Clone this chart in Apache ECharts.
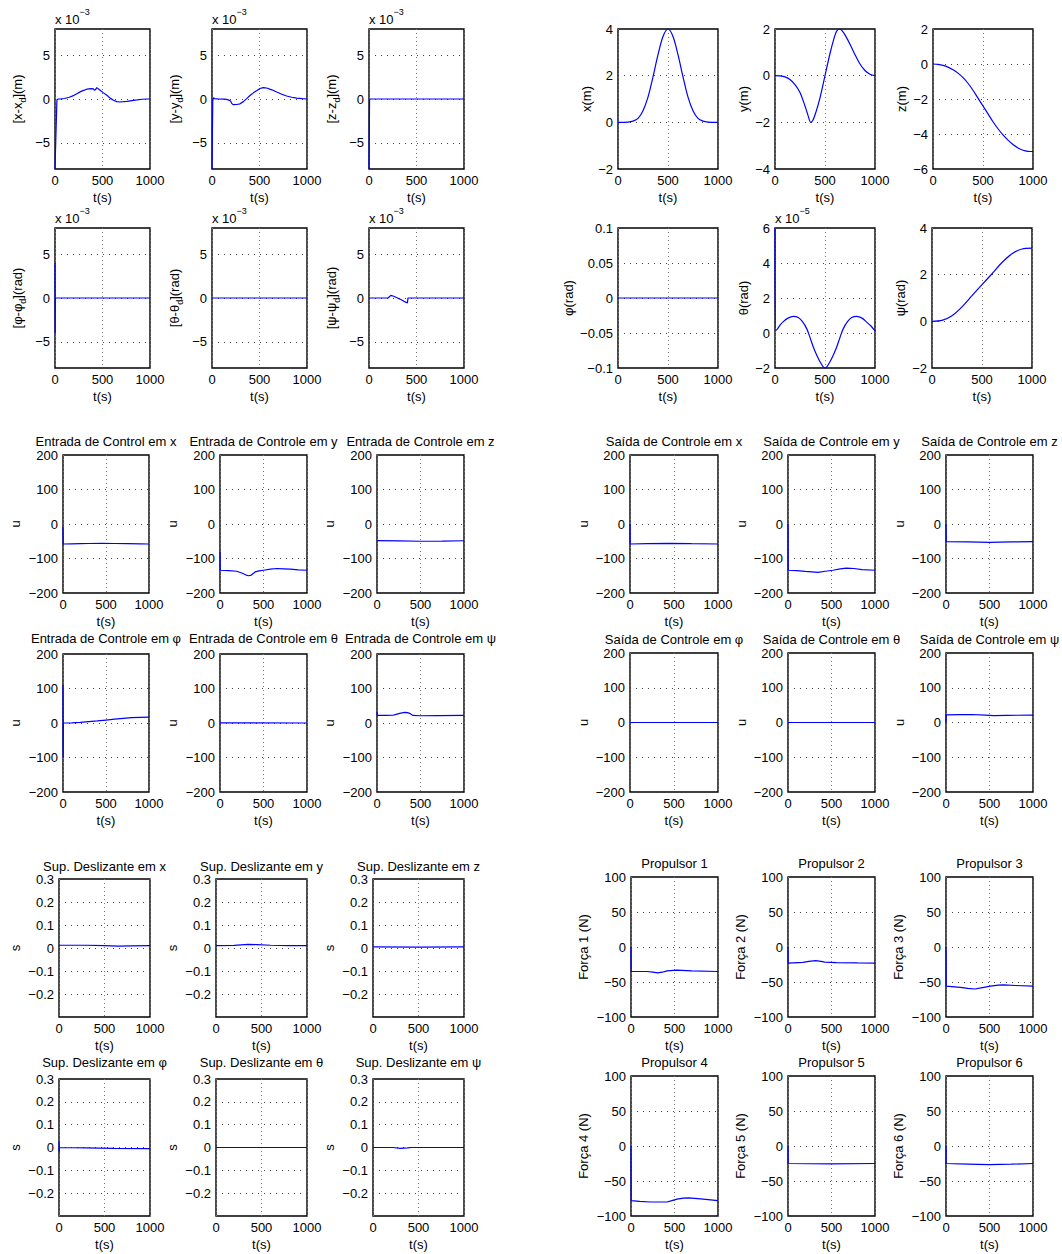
<!DOCTYPE html>
<html>
<head>
<meta charset="utf-8">
<script src="https://cdn.jsdelivr.net/npm/echarts@6/dist/echarts.min.js"></script>
<style>
  html, body { margin: 0; padding: 0; background: #fff; }
  #chart { width: 1062px; height: 1254px; }
</style>
</head>
<body>
<div id="chart"></div>
<script>
// ---------------- data: [t (s), value] ----------------
// tracking errors (units of 1e-3)
const errX = [[0,-8],[20,-0.1],[35,0],[60,0.02],[100,0.06],[150,0.2],[200,0.42],[230,0.6],[280,0.9],[335,1.12],[380,1.18],[405,1.16],[415,1.0],[425,1.05],[440,1.3],[475,1.0],[510,0.7],[546,0.42],[580,0.1],[616,-0.15],[650,-0.3],[680,-0.34],[720,-0.31],[757,-0.27],[810,-0.18],[863,-0.11],[920,-0.03],[968,0],[1000,0]];
const errY = [[0,-8],[8,-0.2],[15,0.15],[25,0.05],[60,0.02],[120,-0.02],[154,-0.05],[190,-0.18],[200,-0.3],[207,-0.5],[225,-0.65],[260,-0.63],[295,-0.55],[330,-0.3],[365,0.04],[400,0.4],[418,0.57],[428,0.6],[435,0.72],[470,0.95],[505,1.2],[540,1.3],[575,1.26],[630,1.05],[681,0.8],[735,0.55],[786,0.34],[840,0.2],[891,0.11],[950,0.04],[1000,0]];
const errZ = [[0,-8],[6,-0.1],[12,0],[1000,0]];
const errPhi = [[0,4],[2,-4],[4,0],[1000,0]];
const errTheta = [[0,0],[1000,0]];
const errPsi = [[0,0],[200,0],[215,0.15],[230,0.3],[260,0.2],[300,0],[340,-0.2],[380,-0.45],[405,-0.55],[410,0],[1000,0]];

// positions and attitude
const posX = [[0,0],[100,0.01],[150,0.05],[200,0.17],[250,0.5],[300,1.08],[350,1.95],[400,2.9],[450,3.68],[500,4.0],[550,3.68],[600,2.9],[650,1.95],[700,1.08],[750,0.5],[800,0.17],[850,0.05],[900,0.01],[1000,0]];
const posY = [[0,0],[50,-0.01],[100,-0.05],[150,-0.16],[200,-0.38],[250,-0.72],[300,-1.3],[330,-1.7],[357,-2.0],[380,-1.9],[410,-1.55],[450,-0.95],[500,0],[550,0.95],[590,1.6],[615,1.9],[643,2.0],[670,1.93],[700,1.75],[750,1.35],[800,0.9],[850,0.5],[900,0.22],[950,0.06],[1000,0]];
const posZ = [[0,0],[50,-0.02],[100,-0.08],[150,-0.18],[200,-0.33],[250,-0.52],[300,-0.78],[350,-1.1],[400,-1.5],[450,-1.95],[500,-2.4],[550,-2.85],[600,-3.3],[650,-3.7],[700,-4.05],[750,-4.35],[800,-4.6],[850,-4.8],[900,-4.93],[950,-4.99],[1000,-5.0]];
const attPhi = [[0,0],[1000,0]];
// units of 1e-5
const attTheta = [[0,6],[8,0.15],[27,0.25],[50,0.45],[83,0.65],[130,0.85],[183,0.95],[233,0.88],[275,0.65],[317,0.25],[350,-0.25],[383,-0.8],[420,-1.3],[450,-1.64],[480,-1.92],[500,-2.0],[520,-1.92],[550,-1.64],[580,-1.3],[617,-0.8],[650,-0.25],[683,0.25],[725,0.65],[767,0.88],[817,0.95],[870,0.85],[917,0.62],[960,0.4],[1000,0.12]];
const attPsi = [[0,0],[100,0.04],[200,0.24],[300,0.62],[400,1.1],[500,1.57],[600,2.04],[700,2.52],[800,2.9],[900,3.1],[1000,3.14]];

// control inputs
const uInX = [[0,-8],[2,-58],[100,-57.5],[200,-57],[300,-56.5],[450,-56],[600,-56.5],[750,-57],[900,-57.5],[1000,-58]];
const uInY = [[0,-80],[2,-134],[100,-135],[192,-137],[250,-142],[300,-148],[327,-150],[360,-148],[404,-139],[450,-136],[500,-134],[580,-131],[654,-129],[730,-130],[808,-131],[900,-133],[1000,-134]];
const uInZ = [[0,-48],[250,-49],[500,-50],[750,-49.5],[1000,-48.5]];
const uInPhi = [[0,110],[2,-100],[5,0],[100,0.5],[200,2],[300,4],[400,6],[500,8.5],[600,11],[700,13.5],[800,15.5],[900,16.5],[1000,17]];
const uInTheta = [[0,0.5],[1000,0]];
const uInPsi = [[0,32],[3,22],[100,22],[184,22.5],[220,25],[260,28],[318,31],[350,30],[375,28],[400,24],[414,22],[490,21],[700,21.5],[1000,22]];

// control outputs
const uOutX = [[0,0],[2,-58],[200,-57],[450,-56],[700,-57],[1000,-58]];
const uOutY = [[0,0],[2,-134],[100,-135],[200,-137.5],[345,-140],[430,-137],[517,-134],[600,-130],[670,-128],[760,-129],[850,-132],[1000,-134]];
const uOutZ = [[0,0],[2,-51],[250,-52],[500,-53],[750,-52],[1000,-51]];
const uOutPhi = [[0,0],[1000,0]];
const uOutTheta = [[0,0],[1000,0]];
const uOutPsi = [[0,0],[2,22],[150,22.5],[300,23],[450,21.5],[550,20],[700,20.5],[1000,21.5]];

// sliding surfaces
const sX = [[0,0.012],[300,0.012],[500,0.01],[650,0.008],[800,0.009],[1000,0.01]];
const sY = [[0,0.01],[200,0.011],[350,0.016],[450,0.015],[600,0.012],[800,0.01],[1000,0.01]];
const sZ = [[0,0.005],[500,0.004],[1000,0.005]];
const sPhi = [[0,0.025],[2,-0.02],[5,0],[300,-0.002],[600,-0.004],[1000,-0.005]];
const sTheta = [[0,0],[1000,0]];
const sPsi = [[0,0],[220,0],[300,-0.004],[380,-0.002],[420,0],[1000,0]];

// thruster forces (N)
const f1 = [[0,0],[2,-35],[184,-35],[250,-36],[306,-37],[360,-36],[414,-34],[529,-33],[700,-34],[1000,-35]];
const f2 = [[0,0],[2,-23],[172,-22],[240,-20.5],[318,-19.5],[380,-20.5],[421,-21.5],[556,-22.4],[800,-22.8],[1000,-23]];
const f3 = [[0,0],[2,-56],[165,-57.6],[250,-59],[330,-60],[420,-58],[510,-56],[600,-54.5],[663,-54],[800,-55],[1000,-56]];
const f4 = [[0,0],[2,-78],[100,-79],[222,-80],[330,-80],[414,-80],[470,-78],[529,-76],[600,-74.5],[663,-74],[800,-75.5],[1000,-78]];
const f5 = [[0,0],[2,-25],[500,-25.5],[1000,-25]];
const f6 = [[0,0],[2,-25],[250,-25.8],[500,-26.5],[750,-26],[1000,-25]];

// axis ranges
const tRange = { min: 0, max: 1000, interval: 500 };
const yErr = { min: -8, max: 8, splitNumber: 3, only: 5 };
const yPosX = { min: -2, max: 4, interval: 2 };
const yPosY = { min: -4, max: 2, interval: 2 };
const yPosZ = { min: -6, max: 2, interval: 2 };
const yPhi = { min: -0.1, max: 0.1, interval: 0.05 };
const yTheta = { min: -2, max: 6, interval: 2 };
const yPsi = { min: -2, max: 4, interval: 2 };
const yCtrl = { min: -200, max: 200, interval: 100 };
const ySurf = { min: -0.3, max: 0.3, interval: 0.1, hide: -0.3 };
const yForce = { min: -100, max: 100, interval: 50 };

// ---------------- layout ----------------
const FONT = '"Liberation Sans", Arial, Helvetica, sans-serif';
const FS = 13;

// [left, top, right, bottom] of each plot box
const panels = [
  // errors
  { data: errX, box: [55, 29, 150, 169], y: yErr, name: '[x-x{sub|d}](m)', gap: 28, mult: '−3' },
  { data: errY, box: [212, 29, 307, 169], y: yErr, name: '[y-y{sub|d}](m)', gap: 28, mult: '−3' },
  { data: errZ, box: [369, 29, 464, 169], y: yErr, name: '[z-z{sub|d}](m)', gap: 28, mult: '−3' },
  { data: errPhi, box: [55, 228, 150, 368], y: yErr, name: '[φ-φ{sub|d}](rad)', gap: 28, mult: '−3' },
  { data: errTheta, box: [212, 228, 307, 368], y: yErr, name: '[θ-θ{sub|d}](rad)', gap: 28, mult: '−3' },
  { data: errPsi, box: [369, 228, 464, 368], y: yErr, name: '[ψ-ψ{sub|d}](rad)', gap: 28, mult: '−3' },
  // positions / attitude
  { data: posX, box: [618, 29, 718, 169], y: yPosX, name: 'x(m)', gap: 23, smooth: true },
  { data: posY, box: [775, 29, 875, 169], y: yPosY, name: 'y(m)', gap: 22, smooth: true },
  { data: posZ, box: [933, 29, 1033, 169], y: yPosZ, name: 'z(m)', gap: 22, smooth: true },
  { data: attPhi, box: [618, 228, 718, 368], y: yPhi, name: 'φ(rad)', gap: 20 },
  { data: attTheta, box: [775, 228, 875, 368], y: yTheta, name: 'θ(rad)', gap: 22, mult: '−5', smooth: true },
  { data: attPsi, box: [932, 228, 1032, 368], y: yPsi, name: 'ψ(rad)', gap: 23, smooth: true },
  // control inputs
  { data: uInX, box: [63, 455, 149, 593], y: yCtrl, name: 'u', gap: 40, title: 'Entrada de Control em x' },
  { data: uInY, box: [220, 455, 307, 593], y: yCtrl, name: 'u', gap: 40, title: 'Entrada de Controle em y' },
  { data: uInZ, box: [377, 455, 464, 593], y: yCtrl, name: 'u', gap: 40, title: 'Entrada de Controle em z' },
  { data: uInPhi, box: [63, 654, 149, 792], y: yCtrl, name: 'u', gap: 40, title: 'Entrada de Controle em φ', tOff: 16 },
  { data: uInTheta, box: [220, 654, 307, 792], y: yCtrl, name: 'u', gap: 40, title: 'Entrada de Controle em θ', tOff: 16 },
  { data: uInPsi, box: [377, 654, 464, 792], y: yCtrl, name: 'u', gap: 40, title: 'Entrada de Controle em ψ', tOff: 16 },
  // control outputs
  { data: uOutX, box: [630, 455, 718, 593], y: yCtrl, name: 'u', gap: 37, title: 'Saída de Controle em x' },
  { data: uOutY, box: [788, 455, 875, 593], y: yCtrl, name: 'u', gap: 37, title: 'Saída de Controle em y' },
  { data: uOutZ, box: [946, 455, 1033, 593], y: yCtrl, name: 'u', gap: 37, title: 'Saída de Controle em z' },
  { data: uOutPhi, box: [630, 653, 718, 792], y: yCtrl, name: 'u', gap: 37, title: 'Saída de Controle em φ' },
  { data: uOutTheta, box: [788, 653, 875, 792], y: yCtrl, name: 'u', gap: 37, title: 'Saída de Controle em θ' },
  { data: uOutPsi, box: [946, 653, 1033, 792], y: yCtrl, name: 'u', gap: 37, title: 'Saída de Controle em ψ' },
  // sliding surfaces
  { data: sX, box: [59, 879, 150, 1017], y: ySurf, name: 's', gap: 36, title: 'Sup. Deslizante em x', tOff: 13 },
  { data: sY, box: [216, 879, 307, 1017], y: ySurf, name: 's', gap: 36, title: 'Sup. Deslizante em y', tOff: 13 },
  { data: sZ, box: [373, 879, 464, 1017], y: ySurf, name: 's', gap: 36, title: 'Sup. Deslizante em z', tOff: 13 },
  { data: sPhi, box: [59, 1079, 150, 1216], y: ySurf, name: 's', gap: 36, title: 'Sup. Deslizante em φ', tOff: 17 },
  { data: sTheta, box: [216, 1079, 307, 1216], y: ySurf, name: 's', gap: 36, title: 'Sup. Deslizante em θ', tOff: 17 },
  { data: sPsi, box: [373, 1079, 464, 1216], y: ySurf, name: 's', gap: 36, title: 'Sup. Deslizante em ψ', tOff: 17 },
  // thrusters
  { data: f1, box: [631, 877, 718, 1017], y: yForce, name: 'Força 1 (N)', gap: 40, title: 'Propulsor 1' },
  { data: f2, box: [788, 877, 875, 1017], y: yForce, name: 'Força 2 (N)', gap: 40, title: 'Propulsor 2' },
  { data: f3, box: [946, 877, 1033, 1017], y: yForce, name: 'Força 3 (N)', gap: 40, title: 'Propulsor 3' },
  { data: f4, box: [631, 1076, 718, 1216], y: yForce, name: 'Força 4 (N)', gap: 40, title: 'Propulsor 4' },
  { data: f5, box: [788, 1076, 875, 1216], y: yForce, name: 'Força 5 (N)', gap: 40, title: 'Propulsor 5' },
  { data: f6, box: [946, 1076, 1033, 1216], y: yForce, name: 'Força 6 (N)', gap: 40, title: 'Propulsor 6' }
];

function fmt(v) {
  return String(parseFloat(Number(v).toFixed(6))).replace('-', '\u2212');
}

const textBase = { fontSize: FS, fontFamily: FONT, color: '#000' };
const subStyle = { fontSize: 9, lineHeight: 10, verticalAlign: 'bottom', fontFamily: FONT, color: '#000' };

const grids = [], xAxes = [], yAxes = [], series = [], graphics = [];

panels.forEach((p, i) => {
  const [l, t, r, b] = p.box;
  grids.push({
    left: l, top: t, width: r - l, height: b - t,
    show: true, borderColor: '#000', borderWidth: 1.4, backgroundColor: 'transparent',
    containLabel: false, outerBoundsMode: 'none'
  });
  xAxes.push({
    type: 'value', gridIndex: i, min: tRange.min, max: tRange.max, interval: tRange.interval,
    axisLine: { show: false }, axisTick: { show: false },
    axisLabel: Object.assign({ margin: 5, formatter: fmt }, textBase),
    splitLine: { show: true, lineStyle: { color: '#777', type: [1, 3], width: 1 } },
    name: 't(s)', nameLocation: 'middle', nameGap: 20,
    nameTextStyle: Object.assign({ lineHeight: 16 }, textBase)
  });
  const yc = p.y;
  const rich = p.name.indexOf('{sub|') >= 0;
  const yAxis = {
    type: 'value', gridIndex: i, min: yc.min, max: yc.max,
    axisLine: { show: false }, axisTick: { show: false },
    axisLabel: Object.assign({
      margin: 5,
      formatter: v => {
        if (yc.only && Math.abs(v % yc.only) > 1e-9) return '';
        if (yc.hide !== undefined && Math.abs(v - yc.hide) < 1e-9) return '';
        return fmt(v);
      }
    }, textBase),
    splitLine: { show: true, lineStyle: { color: '#444', type: [1, 5], width: 1 } },
    name: p.name, nameLocation: 'middle', nameRotate: 90, nameGap: p.gap,
    nameTextStyle: Object.assign({ lineHeight: rich ? 20 : 16, rich: rich ? { sub: subStyle } : undefined }, textBase)
  };
  if (yc.interval !== undefined) yAxis.interval = yc.interval;
  if (yc.splitNumber !== undefined) yAxis.splitNumber = yc.splitNumber;
  yAxes.push(yAxis);
  series.push({
    type: 'line', xAxisIndex: i, yAxisIndex: i, data: p.data,
    symbol: 'none', showSymbol: false, silent: true, animation: false,
    smooth: p.smooth ? 0.3 : false,
    lineStyle: { color: '#0000ff', width: 1.2 }
  });
  if (p.title) {
    graphics.push({
      type: 'text', x: (l + r) / 2, y: t - (p.tOff || 14), silent: true,
      style: { text: p.title, fontSize: FS, fontFamily: FONT, fill: '#000', align: 'center', verticalAlign: 'middle' }
    });
  }
  if (p.mult) {
    graphics.push({
      type: 'text', x: l, y: t - 10, silent: true,
      style: {
        text: 'x 10{sup|' + p.mult + '}', fontSize: FS, fontFamily: FONT, fill: '#000',
        align: 'left', verticalAlign: 'middle', lineHeight: 24,
        rich: { sup: { fontSize: 9, lineHeight: 9, verticalAlign: 'top', fontFamily: FONT, fill: '#000' } }
      }
    });
  }
});

const chart = echarts.init(document.getElementById('chart'), null, { renderer: 'svg' });
chart.setOption({
  backgroundColor: '#fff',
  animation: false,
  grid: grids,
  xAxis: xAxes,
  yAxis: yAxes,
  series: series,
  graphic: { elements: graphics }
});
</script>
</body>
</html>
